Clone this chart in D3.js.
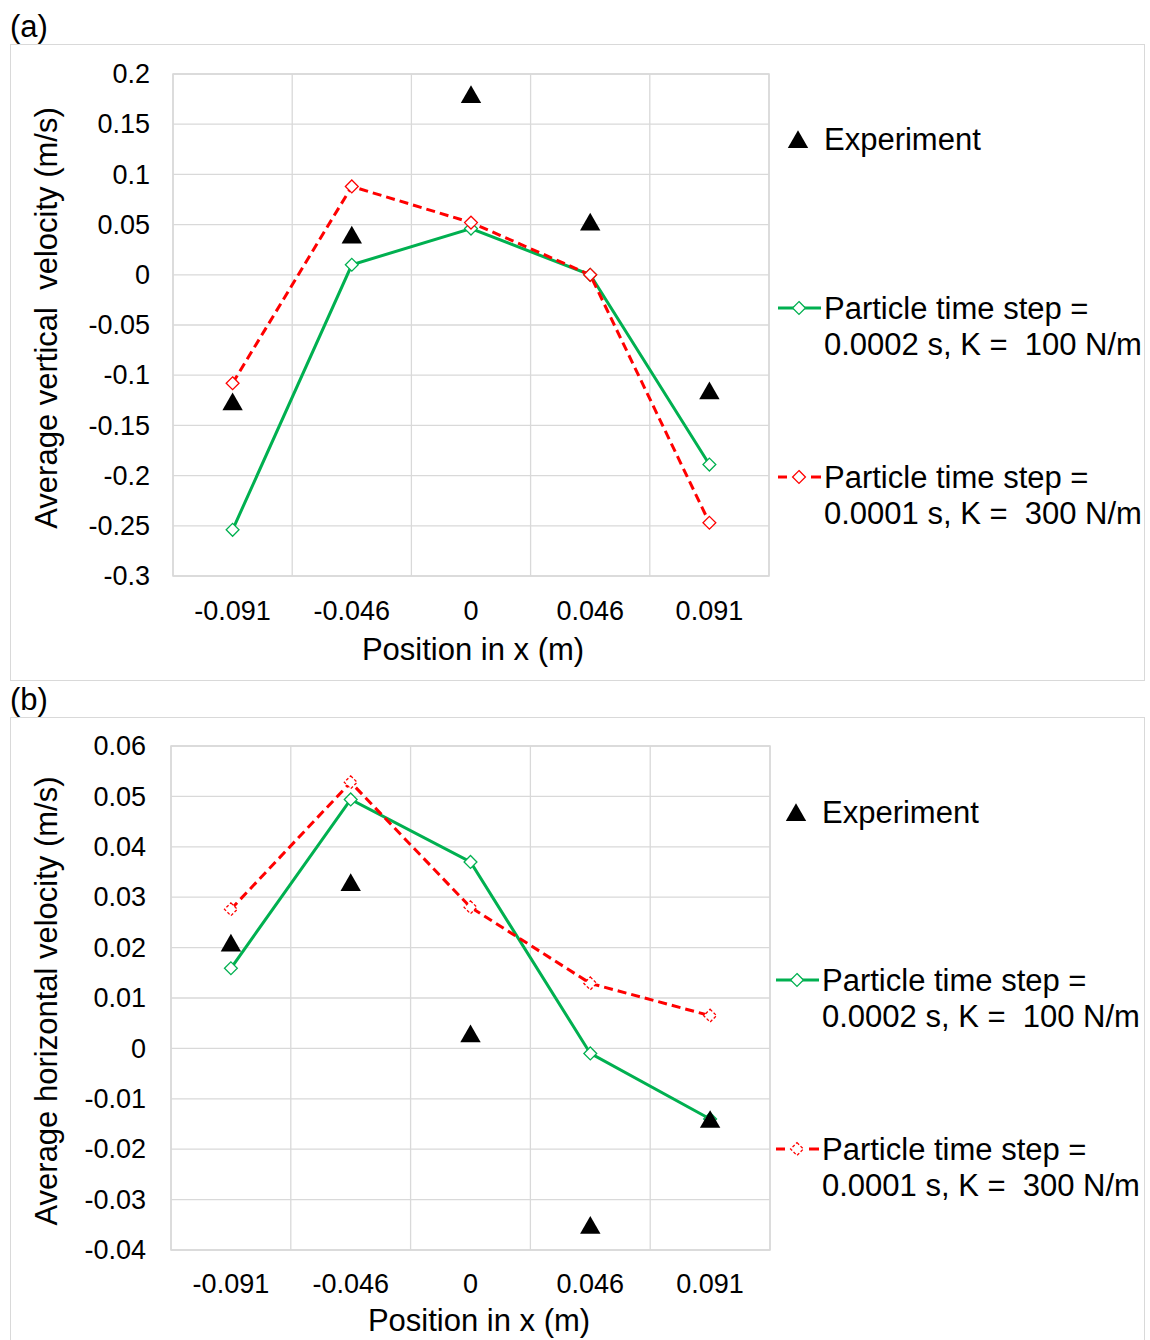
<!DOCTYPE html>
<html><head><meta charset="utf-8">
<script src="https://cdn.jsdelivr.net/npm/d3@7"></script>
<style>body{margin:0;background:#fff}svg{display:block;font-family:"Liberation Sans",Arial,sans-serif}</style>
</head><body>
<svg id="c" width="1150" height="1340"></svg>
<script>
const categories = ["-0.091","-0.046","0","0.046","0.091"];
// Panel (a): average vertical velocity (m/s)
const aExperiment = [-0.126, 0.040, 0.180, 0.053, -0.115];
const aDt2K100 = [-0.254, 0.010, 0.046, 0.000, -0.189];
const aDt1K300 = [-0.108, 0.088, 0.052, 0.000, -0.247];
const aTicks = [0.2,0.15,0.1,0.05,0,-0.05,-0.1,-0.15,-0.2,-0.25,-0.3];
// Panel (b): average horizontal velocity (m/s)
const bExperiment = [0.021, 0.033, 0.003, -0.035, -0.014];
const bDt2K100 = [0.0159, 0.0494, 0.037, -0.001, -0.014];
const bDt1K300 = [0.0276, 0.0528, 0.028, 0.0129, 0.0065];
const bTicks = [0.06,0.05,0.04,0.03,0.02,0.01,0,-0.01,-0.02,-0.03,-0.04];
const seriesNames = ["Experiment", ["Particle time step =", "0.0002 s, K =  100 N/m"], ["Particle time step =", "0.0001 s, K =  300 N/m"]];

const svg = d3.select("#c");
const GRID = "#d9d9d9", GREEN = "#00b050", RED = "#ff0000";
const TICKF = 27, TITLEF = 31, LEGF = 31;

function panel(o){
  const g = svg.append("g");
  g.append("rect").attr("x",o.box[0]+0.5).attr("y",o.box[1]+0.5).attr("width",o.box[2]).attr("height",o.box[3])
   .attr("fill","none").attr("stroke",GRID).attr("stroke-width",1);
  g.append("text").attr("x",10).attr("y",o.box[1]-7).attr("font-size",31).text(o.tag);
  const x = d3.scaleBand().domain(categories).range([o.L,o.R]).padding(0);
  const y = d3.scaleLinear().domain([o.ticks[o.ticks.length-1], o.ticks[0]]).range([o.B,o.T]);
  const cx = c => x(c)+x.bandwidth()/2;
  // grid
  g.append("g").selectAll("line").data(o.ticks).join("line")
   .attr("x1",o.L).attr("x2",o.R).attr("y1",d=>y(d)).attr("y2",d=>y(d)).attr("stroke",GRID).attr("stroke-width",1.3);
  g.append("g").selectAll("line").data(categories.concat(["end"])).join("line")
   .attr("x1",(d,i)=>i<categories.length?x(d):o.R).attr("x2",(d,i)=>i<categories.length?x(d):o.R)
   .attr("y1",o.T).attr("y2",o.B).attr("stroke",GRID).attr("stroke-width",1.3);
  g.append("rect").attr("x",o.L).attr("y",o.T).attr("width",o.R-o.L).attr("height",o.B-o.T).attr("fill","none").attr("stroke",GRID).attr("stroke-width",1.5);
  // y tick labels
  const yAxis = d3.axisLeft(y).tickValues(o.ticks).tickFormat(d=>String(+d.toFixed(3))).tickSize(0).tickPadding(o.L-o.yLabR);
  const ya = g.append("g").attr("transform",`translate(${o.L},0)`).call(yAxis);
  ya.select(".domain").remove();
  ya.selectAll("text").attr("font-size",TICKF).attr("font-family","Liberation Sans, Arial").attr("fill","#000");
  // x tick labels
  const xAxis = d3.axisBottom(x).tickSize(0).tickPadding(o.xLabY-o.B);
  const xa = g.append("g").attr("transform",`translate(0,${o.B})`).call(xAxis);
  xa.select(".domain").remove();
  xa.selectAll("text").attr("font-size",TICKF).attr("font-family","Liberation Sans, Arial").attr("fill","#000").attr("dy","0");
  // axis titles
  g.append("text").attr("x",o.xTitle[0]).attr("y",o.xTitle[1]).attr("text-anchor","middle").attr("font-size",TITLEF).text("Position in x (m)");
  g.append("text").attr("transform",`translate(${o.yTitle[0]},${o.yTitle[1]}) rotate(-90)`).attr("text-anchor","middle").attr("font-size",TITLEF)
   .style("white-space","pre").text(o.yTitleText);
  // lines
  const line = d3.line().x((d,i)=>cx(categories[i])).y(d=>y(d));
  g.append("path").datum(o.green).attr("d",line).attr("fill","none").attr("stroke",GREEN).attr("stroke-width",3);
  g.append("path").datum(o.red).attr("d",line).attr("fill","none").attr("stroke",RED).attr("stroke-width",3).attr("stroke-dasharray","9,5");
  const diamond = d3.symbol().type(d3.symbolDiamond2).size(105);
  g.append("g").selectAll("path").data(o.green).join("path").attr("d",diamond)
   .attr("transform",(d,i)=>`translate(${cx(categories[i])},${y(d)})`).attr("fill","#fff").attr("stroke",GREEN).attr("stroke-width",1.3);
  g.append("g").selectAll("path").data(o.red).join("path").attr("d",diamond)
   .attr("transform",(d,i)=>`translate(${cx(categories[i])},${y(d)})`).attr("fill","#fff").attr("stroke",RED).attr("stroke-width",1.3)
   .attr("stroke-dasharray",o.redMarkerDash||null);
  const tri = d3.symbol().type(d3.symbolTriangle).size(180);
  const triOff = 3; // centre the triangle's box on the point
  g.append("g").selectAll("path").data(o.exp).join("path").attr("d",tri)
   .attr("transform",(d,i)=>`translate(${cx(categories[i])},${y(d)+triOff})`).attr("fill","#000");
  // legend
  const lg = o.leg;
  g.append("path").attr("d",tri).attr("transform",`translate(${lg.x+20},${lg.y[0]+triOff})`).attr("fill","#000");
  g.append("text").attr("x",lg.x+46).attr("y",lg.y[0]+11).attr("font-size",LEGF).text(seriesNames[0]);
  [[GREEN,null,lg.y[1],seriesNames[1]],[RED,"9,5",lg.y[2],seriesNames[2]]].forEach(([col,dash,yy,lab])=>{
    if(dash){
      g.append("line").attr("x1",lg.x).attr("x2",lg.x+9).attr("y1",yy).attr("y2",yy).attr("stroke",col).attr("stroke-width",3);
      g.append("line").attr("x1",lg.x+33).attr("x2",lg.x+43).attr("y1",yy).attr("y2",yy).attr("stroke",col).attr("stroke-width",3);
    } else {
      g.append("line").attr("x1",lg.x).attr("x2",lg.x+43).attr("y1",yy).attr("y2",yy).attr("stroke",col).attr("stroke-width",3);
    }
    g.append("path").attr("d",diamond).attr("transform",`translate(${lg.x+21},${yy})`).attr("fill","#fff").attr("stroke",col).attr("stroke-width",1.3)
     .attr("stroke-dasharray",dash && o.redMarkerDash ? o.redMarkerDash : null);
    g.append("text").attr("x",lg.x+46).attr("y",yy+11).attr("font-size",LEGF).text(lab[0]);
    g.append("text").attr("x",lg.x+46).attr("y",yy+47).attr("font-size",LEGF).style("white-space","pre").text(lab[1]);
  });
}

panel({tag:"(a)", box:[10,44,1134,636], L:173, R:769, T:74, B:576, yLabR:150, xLabY:620,
  ticks:aTicks, exp:aExperiment, green:aDt2K100, red:aDt1K300,
  xTitle:[473,660], yTitle:[57,318], yTitleText:"Average vertical  velocity (m/s)",
  leg:{x:778, y:[139,308,477]}});
panel({tag:"(b)", box:[10,717,1134,630], L:171, R:770, T:746, B:1250, yLabR:146, xLabY:1293,
  ticks:bTicks, exp:bExperiment, green:bDt2K100, red:bDt1K300, redMarkerDash:"3,2",
  xTitle:[479,1331], yTitle:[57,1001], yTitleText:"Average horizontal velocity (m/s)",
  leg:{x:776, y:[812,980,1149]}});
</script>
</body></html>
